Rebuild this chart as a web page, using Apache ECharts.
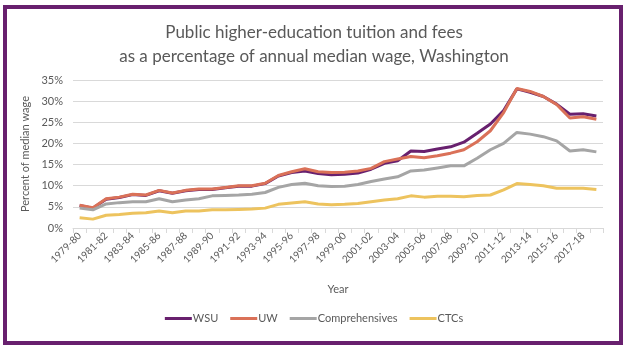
<!DOCTYPE html>
<html>
<head>
<meta charset="utf-8">
<script src="https://cdn.jsdelivr.net/npm/echarts@6/dist/echarts.min.js"></script>
<style>
  html, body { margin: 0; padding: 0; background: #fff; }
  #box { position: absolute; left: 3px; top: 5px; width: 612px; height: 332px; border: 4px solid #68206E; }
  #chart { position: absolute; left: 0; top: 0; width: 628px; height: 351px; }
</style>
</head>
<body>
<div id="box"></div>
<div id="chart"></div>
<script>
const years = ['1979-80', '1980-81', '1981-82', '1982-83', '1983-84', '1984-85', '1985-86', '1986-87', '1987-88', '1988-89',
    '1989-90', '1990-91', '1991-92', '1992-93', '1993-94', '1994-95', '1995-96', '1996-97', '1997-98', '1998-99',
    '1999-00', '2000-01', '2001-02', '2002-03', '2003-04', '2004-05', '2005-06', '2006-07', '2007-08', '2008-09',
    '2009-10', '2010-11', '2011-12', '2012-13', '2013-14', '2014-15', '2015-16', '2016-17', '2017-18', '2018-19']

const wsu = [5.3, 4.7, 6.8, 7.2, 7.9, 7.7, 8.8, 8.2, 8.8, 9.1,
    9.1, 9.5, 9.9, 9.9, 10.5, 12.3, 13.1, 13.5, 12.9, 12.6,
    12.7, 13.0, 13.9, 15.3, 15.9, 18.2, 18.1, 18.7, 19.2, 20.3,
    22.4, 24.6, 27.8, 32.9, 32.1, 31.1, 29.3, 26.9, 27.0, 26.5]

const uw = [5.4, 4.8, 6.9, 7.3, 8.0, 7.8, 8.9, 8.3, 8.9, 9.2,
    9.2, 9.6, 10.0, 10.0, 10.6, 12.4, 13.3, 14.0, 13.3, 13.1,
    13.2, 13.5, 14.1, 15.7, 16.3, 16.9, 16.6, 17.1, 17.7, 18.5,
    20.4, 23.0, 27.3, 33.0, 32.3, 31.1, 29.2, 26.0, 26.3, 25.7]

const comprehensives = [4.7, 4.3, 5.7, 6.0, 6.2, 6.2, 6.9, 6.2, 6.6, 6.9,
    7.6, 7.7, 7.8, 8.0, 8.4, 9.6, 10.3, 10.6, 10.0, 9.8,
    9.9, 10.3, 11.0, 11.6, 12.1, 13.5, 13.7, 14.2, 14.7, 14.7,
    16.5, 18.5, 20.0, 22.6, 22.2, 21.6, 20.6, 18.2, 18.5, 18.0]

const ctcs = [2.4, 2.1, 3.0, 3.2, 3.5, 3.6, 4.0, 3.6, 4.0, 4.0,
    4.3, 4.3, 4.4, 4.5, 4.7, 5.6, 5.9, 6.2, 5.7, 5.5,
    5.6, 5.8, 6.2, 6.6, 6.9, 7.6, 7.3, 7.5, 7.5, 7.4,
    7.7, 7.8, 9.0, 10.5, 10.3, 10.0, 9.4, 9.4, 9.4, 9.1]

const font = 'Lato, "Liberation Sans", sans-serif'
const textColor = '#595959'

const chart = echarts.init(document.querySelector('#chart'))

const mkLine = (name, data, color) => ({
    name,
    type: 'line',
    data,
    symbol: 'none',
    lineStyle: { width: 3, color },
    itemStyle: { color },
    animation: false
})

const option = {
    textStyle: { fontFamily: font },
    title: {
        text: 'Public higher-education tuition and fees\nas a percentage of annual median wage, Washington',
        left: 'center',
        top: 16,
        textStyle: { fontFamily: font, fontSize: 17, fontWeight: 'normal', color: textColor, lineHeight: 24 }
    },
    grid: { left: 73, right: 25, top: 80, bottom: 123 },
    legend: {
        bottom: 22,
        left: 'center',
        icon: 'rect',
        itemWidth: 27,
        itemHeight: 3,
        itemGap: 12,
        textStyle: { fontFamily: font, fontSize: 11, color: textColor, padding: [0, 0, 0, -4] },
        data: ['WSU', 'UW', 'Comprehensives', 'CTCs']
    },
    xAxis: {
        type: 'category',
        data: years,
        boundaryGap: true,
        name: 'Year',
        nameLocation: 'middle',
        nameGap: 56,
        nameTextStyle: { fontFamily: font, fontSize: 11, color: textColor },
        axisLine: { lineStyle: { color: '#d9d9d9' } },
        axisTick: { show: true, interval: 0, length: 5, lineStyle: { color: '#d9d9d9' } },
        axisLabel: { interval: 1, rotate: 45, fontSize: 10, color: textColor, margin: 6 }
    },
    yAxis: {
        type: 'value',
        min: 0,
        max: 35,
        interval: 5,
        name: 'Percent of median wage',
        nameLocation: 'middle',
        nameGap: 40,
        nameTextStyle: { fontFamily: font, fontSize: 11, color: textColor },
        axisLine: { show: false },
        axisTick: { show: false },
        axisLabel: { formatter: '{value}%', fontSize: 11, color: textColor, margin: 10 },
        splitLine: { lineStyle: { color: '#d9d9d9' } }
    },
    series: [
        mkLine('WSU', wsu, '#68206E'),
        mkLine('UW', uw, '#DA7158'),
        mkLine('Comprehensives', comprehensives, '#A5A5A5'),
        mkLine('CTCs', ctcs, '#EDC35E')
    ]
}

chart.setOption(option)
</script>
</body>
</html>
